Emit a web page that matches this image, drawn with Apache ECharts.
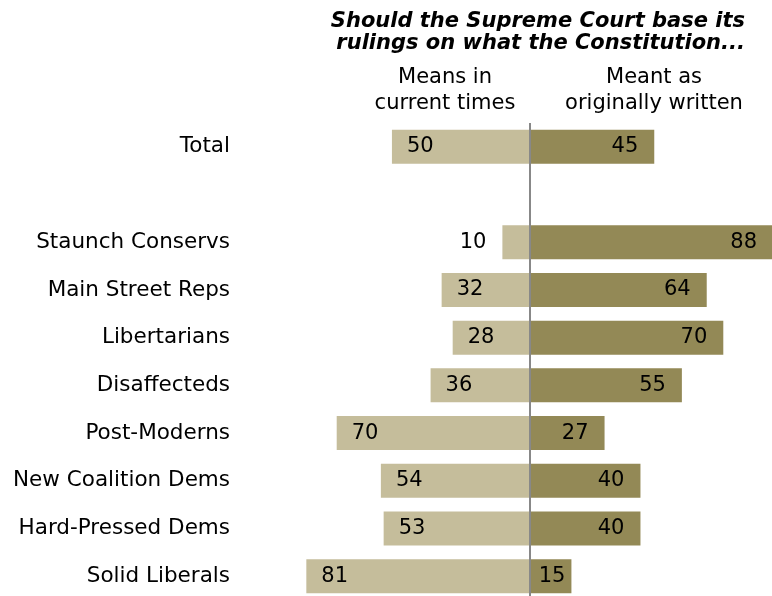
<!DOCTYPE html>
<html>
<head>
<meta charset="utf-8">
<script src="https://cdn.jsdelivr.net/npm/echarts@6/dist/echarts.min.js"></script>
<style>
  html, body { margin: 0; padding: 0; background: #fff; }
  #chart { width: 772px; height: 596px; }
</style>
</head>
<body>
<div id="chart"></div>
<script>
// 数据
const categories = ['Total', '', 'Staunch Conservs', 'Main Street Reps', 'Libertarians', 'Disaffecteds',
  'Post-Moderns', 'New Coalition Dems', 'Hard-Pressed Dems', 'Solid Liberals']
const currentTimes = [50, null, 10, 32, 28, 36, 70, 54, 53, 81]
const originallyWritten = [45, null, 88, 64, 70, 55, 27, 40, 40, 15]

const FONT = 'DejaVu Sans'
const lightColor = '#c5bd9b'
const darkColor = '#938956'

const chart = echarts.init(document.getElementById('chart'))

// 左边的柱子用负值画
const leftData = currentTimes.map(function (v) {
  if (v === null) return null
  const item = { value: -v }
  if (v < 15) {
    // 太短的柱子，数字放在外面
    item.label = { position: 'left', distance: 16 }
  }
  return item
})
const rightData = originallyWritten.map(function (v) {
  if (v === null) return null
  const item = { value: v }
  if (v < 20) {
    item.label = { distance: 6 }
  }
  return item
})

const option = {
  animation: false,
  graphic: [
    {
      // 标题
      type: 'text',
      x: 745,
      y: 11,
      style: {
        text: 'Should the Supreme Court base its\nrulings on what the Constitution...',
        fontFamily: FONT,
        fontSize: 21,
        fontWeight: 'bold',
        fontStyle: 'italic',
        lineHeight: 22,
        fill: '#000',
        align: 'right',
        verticalAlign: 'top'
      }
    },
    {
      type: 'text',
      x: 445,
      y: 65,
      style: {
        text: 'Means in\ncurrent times',
        fontFamily: FONT,
        fontSize: 21,
        lineHeight: 26,
        fill: '#000',
        align: 'center',
        verticalAlign: 'top'
      }
    },
    {
      type: 'text',
      x: 654,
      y: 65,
      style: {
        text: 'Meant as\noriginally written',
        fontFamily: FONT,
        fontSize: 21,
        lineHeight: 26,
        fill: '#000',
        align: 'center',
        verticalAlign: 'top'
      }
    }
  ],
  grid: {
    left: 287,
    width: 486,
    top: 123,
    height: 477,
    outerBoundsMode: 'none'
  },
  xAxis: {
    type: 'value',
    min: -88,
    max: 88,
    show: false
  },
  yAxis: {
    type: 'category',
    inverse: true,
    data: categories,
    axisLine: { show: false },
    axisTick: { show: false },
    splitLine: { show: false },
    axisLabel: {
      margin: 57,
      fontFamily: FONT,
      fontSize: 21.5,
      color: '#000'
    }
  },
  series: [
    {
      name: 'Means in current times',
      type: 'bar',
      barWidth: 34,
      barGap: '-100%',
      itemStyle: { color: lightColor },
      label: {
        show: true,
        position: 'insideLeft',
        distance: 15,
        fontFamily: FONT,
        fontSize: 21,
        color: '#000',
        formatter: function (p) { return Math.abs(p.value) }
      },
      data: leftData
    },
    {
      name: 'Meant as originally written',
      type: 'bar',
      barWidth: 34,
      itemStyle: { color: darkColor },
      label: {
        show: true,
        position: 'insideRight',
        distance: 16,
        fontFamily: FONT,
        fontSize: 21,
        color: '#000'
      },
      markLine: {
        silent: true,
        symbol: 'none',
        label: { show: false },
        lineStyle: { color: '#888', width: 2, type: 'solid' },
        data: [{ xAxis: 0 }]
      },
      data: rightData
    }
  ]
}

chart.setOption(option)
</script>
</body>
</html>
